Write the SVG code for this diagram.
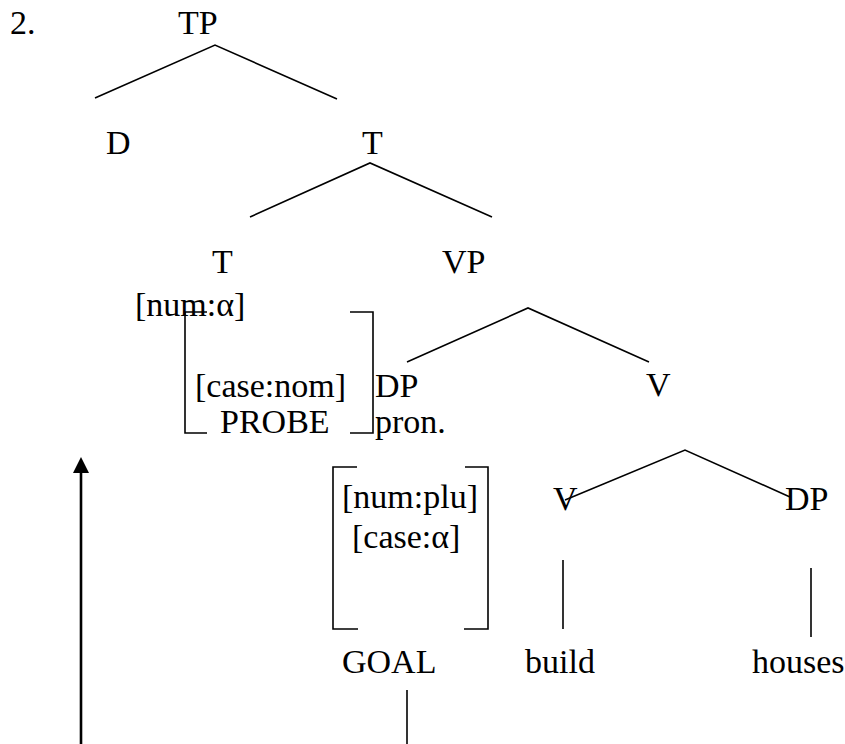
<svg xmlns="http://www.w3.org/2000/svg" width="845" height="744" viewBox="0 0 845 744">
<style>
text{font-family:'Liberation Serif',Tinos,'Times New Roman',Times,'DejaVu Serif',serif;font-size:34px;fill:#000}
.ln{stroke:#000;stroke-width:1.6;fill:none}
.ar{stroke:#000;stroke-width:2.6;fill:none}
</style>
<rect width="845" height="744" fill="#fff"/>
<g font-family="Liberation Serif, Times New Roman, serif">
<g id="num"><text x="10" y="34">2.</text></g>
<g id="TP"><text x="178" y="34">TP</text></g>
<g id="D"><text x="106" y="154">D</text></g>
<g id="Tbar"><text x="362" y="154">T</text></g>
<g id="T"><text x="212" y="273">T</text><text x="135" y="316">[num:α]</text></g>
<g id="probe">
<text x="195" y="397">[case:nom]</text>
<text x="220" y="433">PROBE</text>
<path class="ln" d="M207,312 H185 V433 H207"/>
<path class="ln" d="M350,312 H373 V433 H350"/>
</g>
<g id="VP"><text x="442" y="273">VP</text></g>
<g id="DP"><text x="375" y="397">DP</text><text x="375" y="433">pron.</text></g>
<g id="Vbar"><text x="646" y="396">V</text></g>
<g id="goal">
<text x="342" y="508">[num:plu]</text>
<text x="352" y="548">[case:α]</text>
<path class="ln" d="M357,467 H333 V629 H358"/>
<path class="ln" d="M465,467 H488 V629 H464"/>
<text x="342" y="673">GOAL</text>
</g>
<g id="V"><text x="553" y="510">V</text></g>
<g id="DP2"><text x="785" y="510">DP</text></g>
<g id="build"><text x="525" y="673">build</text></g>
<g id="houses"><text x="752" y="673">houses</text></g>
</g>
<g id="connectors">
<path class="ln" d="M95,98 L215,45 L337,99"/>
<path class="ln" d="M250,217 L370,163 L492,217"/>
<path class="ln" d="M407,362 L528,308 L649,362"/>
<path class="ln" d="M565,500 L685,450 L790,497"/>
<line class="ln" x1="563" y1="560" x2="563" y2="629"/>
<line class="ln" x1="811" y1="568" x2="811" y2="637"/>
<line class="ln" x1="407" y1="690" x2="407" y2="744"/>
<line class="ar" x1="81" y1="744" x2="81" y2="473"/>
<path d="M81,457 L73,473 L89,473 Z" fill="#000"/>
</g>
</svg>
